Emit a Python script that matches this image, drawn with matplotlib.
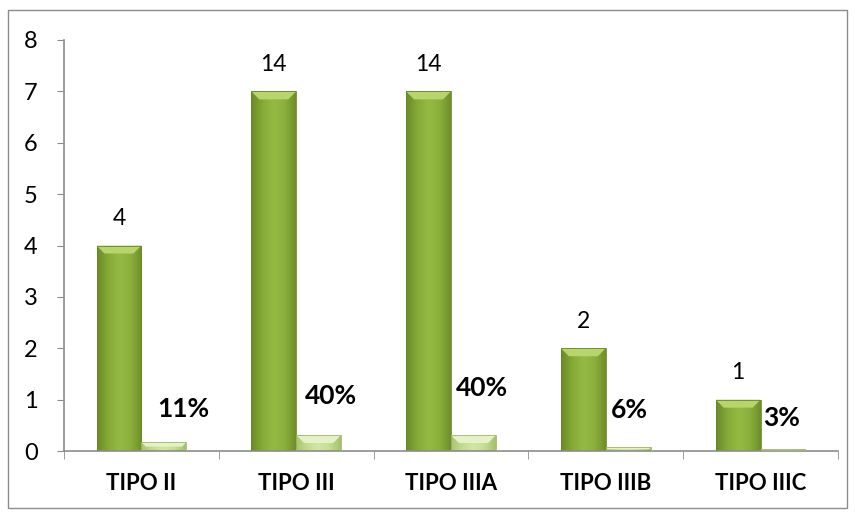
import numpy as np
import matplotlib.pyplot as plt
from matplotlib.patches import Rectangle, Polygon
from matplotlib.colors import LinearSegmentedColormap

# Datos de la gráfica
categorias = ['TIPO II', 'TIPO III', 'TIPO IIIA', 'TIPO IIIB', 'TIPO IIIC']
alturas = [4, 7, 7, 2, 1]
etiquetas_casos = ['4', '14', '14', '2', '1']
porcentajes = [0.17, 0.31, 0.31, 0.07, 0.03]
etiquetas_pct = ['11%', '40%', '40%', '6%', '3%']

# Desplazamiento manual de las etiquetas de porcentaje (en puntos)
PCT_OFFSETS = [(14, 24), (9, 28), (6, 34), (1, 27), (-1, 23)]

ANCHO = 0.29
FONT = ['Lato', 'DejaVu Sans']

plt.rcParams['font.family'] = FONT

fig = plt.figure(figsize=(8.55, 5.13), dpi=100)
ax = fig.add_axes([64 / 855, 1 - 451 / 513, 774 / 855, 411 / 513])

# Marco exterior
fig.patches.append(Rectangle((8 / 855, 1 - 508 / 513), 839 / 855, 498 / 513,
                             transform=fig.transFigure, fill=False,
                             edgecolor='#8c8c8c', linewidth=1.0))

ax.set_xlim(-0.5, len(categorias) - 0.5)
ax.set_ylim(0, 8)

# px -> unidades de datos
PX_X = (len(categorias)) / 774
PX_Y = 8 / 411

verde = LinearSegmentedColormap.from_list(
    'verde', ['#6a8a27', '#86aa38', '#95ba44', '#8cb03c', '#6f8f2a'])
claro = LinearSegmentedColormap.from_list(
    'claro', ['#a9c474', '#c4dc92', '#d2e6a6', '#c6dd96', '#a5c06e'])


def barra_biselada(x0, h, cmap, tope, borde):
    rect = Rectangle((x0, 0), ANCHO, h, facecolor='none', edgecolor='none')
    ax.add_patch(rect)
    grad = np.linspace(0, 1, 64).reshape(1, -1)
    im = ax.imshow(grad, cmap=cmap, extent=[x0, x0 + ANCHO, 0, h],
                   aspect='auto', zorder=2, interpolation='bicubic')
    im.set_clip_path(rect)
    # bisel superior
    b = min(8, h / PX_Y / 2)
    bx, by = b * PX_X, b * PX_Y
    ax.add_patch(Polygon([(x0, h), (x0 + ANCHO, h), (x0 + ANCHO - bx, h - by),
                          (x0 + bx, h - by)], closed=True, facecolor=tope,
                         edgecolor='none', zorder=3))
    ax.add_patch(Rectangle((x0, 0), ANCHO, h, facecolor='none',
                           edgecolor=borde, linewidth=0.6, zorder=3))


x = np.arange(len(categorias))
for i in range(len(categorias)):
    barra_biselada(x[i] - ANCHO, alturas[i], verde, '#b7d56c', '#6a8727')
    barra_biselada(x[i], porcentajes[i], claro, '#e6f2c6', '#9fb86a')
    ax.annotate(etiquetas_casos[i], (x[i] - ANCHO / 2, alturas[i]),
                xytext=(0, 12), textcoords='offset points',
                ha='center', va='bottom', fontsize=16.5, color='black')
    ax.annotate(etiquetas_pct[i], (x[i] + ANCHO / 2, porcentajes[i]),
                xytext=PCT_OFFSETS[i], textcoords='offset points',
                ha='center', va='center', fontsize=19, fontweight='bold',
                color='black')

# Ejes
for s in ['top', 'right']:
    ax.spines[s].set_visible(False)
for s in ['left', 'bottom']:
    ax.spines[s].set_color('#8c8c8c')
    ax.spines[s].set_linewidth(1.2)

ax.set_yticks(range(0, 9))
ax.tick_params(axis='y', length=5, color='#8c8c8c', labelsize=17, pad=14)

ax.set_xticks(x)
ax.set_xticklabels(categorias, fontsize=16, fontweight='bold')
ax.set_xticks(np.arange(-0.5, len(categorias)), minor=True)
ax.tick_params(axis='x', which='major', length=0, pad=16)
ax.tick_params(axis='x', which='minor', length=6, color='#8c8c8c',
               direction='out')

fig.savefig('out.png', dpi=100)
